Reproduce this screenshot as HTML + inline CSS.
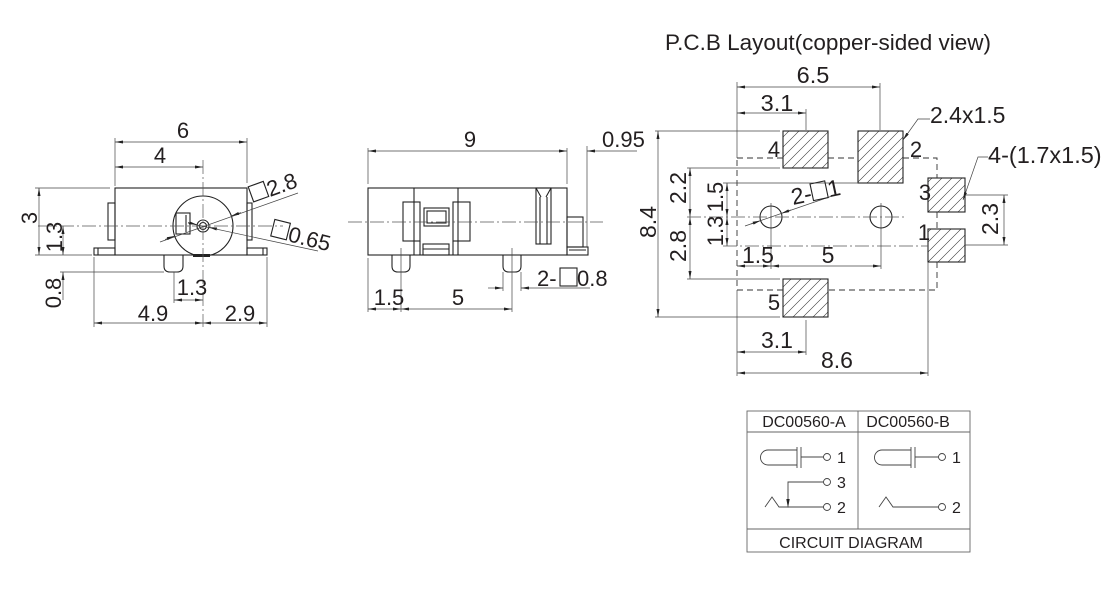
<!DOCTYPE html>
<html><head><meta charset="utf-8">
<style>
html,body{margin:0;padding:0;background:#fff;}
svg{display:block;}
text{font-family:"Liberation Sans",Arial,sans-serif;fill:#231f20;}
.o{stroke:#222;stroke-width:1.1;fill:none;}
.d{stroke:#444;stroke-width:0.7;fill:none;}
.c{stroke:#555;stroke-width:0.7;fill:none;stroke-dasharray:14 3 2 3;}
.ds{stroke:#333;stroke-width:0.9;fill:none;stroke-dasharray:6 4;}
.g{stroke:#666;stroke-width:0.9;fill:none;}
.ar{marker-start:url(#a);marker-end:url(#a);}
.ae{marker-end:url(#a);}
.as{marker-start:url(#a);}
</style></head><body>
<svg width="1120" height="590" viewBox="0 0 1120 590" xmlns="http://www.w3.org/2000/svg">
<defs>
<marker id="a" viewBox="0 0 8 3" refX="8" refY="1.5" markerWidth="8" markerHeight="3" markerUnits="userSpaceOnUse" orient="auto-start-reverse"><path d="M0,0 L8,1.5 L0,3z" fill="#222"/></marker>
<pattern id="h" width="10" height="10" patternUnits="userSpaceOnUse"><path d="M-2,2 L2,-2 M0,10 L10,0 M8,12 L12,8" stroke="#333" stroke-width="0.6"/></pattern>
</defs>

<!-- ================= LEFT VIEW ================= -->
<g class="o">
<rect x="115" y="188" width="132" height="67"/>
<rect x="108" y="203" width="7" height="37"/>
<rect x="247" y="203" width="5" height="37"/>
<rect x="94" y="248" width="21" height="7"/>
<line x1="98" y1="248" x2="98" y2="255"/>
<rect x="247" y="248" width="20" height="7"/>
<line x1="263" y1="248" x2="263" y2="255"/>
<path d="M164,255 V266 Q164,272 170,272 H177 Q183,272 183,266 V255"/>
<circle cx="203" cy="226" r="30"/>
<circle cx="203" cy="226" r="6"/>
<circle cx="203" cy="226" r="3.5"/>
<rect x="176" y="213" width="14" height="21"/>
<line x1="186" y1="215" x2="186" y2="232"/>
</g>
<rect x="193" y="254" width="17" height="3" fill="#222"/>
<line class="c" x1="38" y1="226" x2="283" y2="226"/>
<line class="c" x1="203" y1="160" x2="203" y2="327"/>

<g class="d">
<line x1="115" y1="138" x2="115" y2="186"/>
<line x1="247" y1="138" x2="247" y2="183"/>
<line class="ar" x1="115" y1="142" x2="247" y2="142"/>
<line class="ar" x1="115" y1="167" x2="203" y2="167"/>
<line x1="35" y1="188" x2="110" y2="188"/>
<line x1="35" y1="255" x2="92" y2="255"/>
<line class="ar" x1="39" y1="188" x2="39" y2="255"/>
<line class="ae" x1="63" y1="240" x2="63" y2="226"/>
<line class="ae" x1="63" y1="240" x2="63" y2="255"/>
<line class="ae" x1="63" y1="300" x2="63" y2="272"/>
<line x1="60" y1="272" x2="164" y2="272"/>
<line x1="174" y1="272" x2="174" y2="303"/>
<line class="ar" x1="174" y1="300" x2="203" y2="300"/>
<line x1="94" y1="257" x2="94" y2="327"/>
<line x1="267" y1="257" x2="267" y2="327"/>
<line class="ar" x1="94" y1="323" x2="203" y2="323"/>
<line class="ar" x1="203" y1="323" x2="267" y2="323"/>
<line x1="298" y1="193" x2="160" y2="242"/>
<line x1="318" y1="251" x2="188" y2="223"/>
<line class="ae" x1="241" y1="212.6" x2="231.3" y2="216"/>
<line class="ae" x1="165" y1="239.4" x2="174.7" y2="236"/>
<line class="ae" x1="218" y1="229.3" x2="208.9" y2="227.3"/>
<line class="ae" x1="188" y1="222.5" x2="197.1" y2="224.7"/>
</g>

<text x="183" y="138" text-anchor="middle" font-size="22">6</text>
<text x="160" y="163" text-anchor="middle" font-size="22">4</text>
<text transform="translate(37,218) rotate(-90)" text-anchor="middle" font-size="22">3</text>
<text transform="translate(62,237) rotate(-90)" text-anchor="middle" font-size="22">1.3</text>
<text transform="translate(61,293) rotate(-90)" text-anchor="middle" font-size="22">0.8</text>
<text x="192" y="295" text-anchor="middle" font-size="22">1.3</text>
<text x="153" y="321" text-anchor="middle" font-size="22">4.9</text>
<text x="240" y="321" text-anchor="middle" font-size="22">2.9</text>
<g transform="translate(270,197) rotate(-20)">
<rect x="-17" y="-17" width="16" height="16" class="o" stroke-width="0.9"/>
<text x="0" y="0" font-size="22">2.8</text>
</g>
<g transform="translate(287,241) rotate(14)">
<rect x="-17" y="-18" width="16" height="17" class="o" stroke-width="0.9"/>
<text x="0" y="0" font-size="22">0.65</text>
</g>

<!-- ================= MIDDLE VIEW ================= -->
<g class="o">
<rect x="368" y="188" width="199" height="67"/>
<line x1="414" y1="188" x2="414" y2="255"/>
<line x1="458" y1="188" x2="458" y2="255"/>
<rect x="403" y="202" width="17" height="39"/>
<rect x="453" y="202" width="17" height="39"/>
<rect x="424" y="208" width="25" height="18"/>
<rect x="427" y="211" width="19" height="12"/>
<line x1="420" y1="241" x2="420" y2="255"/>
<line x1="453" y1="241" x2="453" y2="255"/>
<rect x="423" y="244" width="26" height="11"/>
<line x1="423" y1="249" x2="449" y2="249"/>
<rect x="536" y="188" width="15" height="56"/>
<line x1="540" y1="197" x2="540" y2="244"/>
<line x1="547" y1="197" x2="547" y2="244"/>
<path d="M536,188 L541,197 M551,188 L546,197"/>
<rect x="567" y="217" width="16" height="30"/>
<rect x="567" y="247" width="21" height="8"/>
<line x1="569" y1="250" x2="586" y2="250"/>
<path d="M392,255 V266 Q392,272 398,272 H404 Q410,272 410,266 V255"/>
<path d="M503,255 V266 Q503,272 509,272 H515 Q521,272 521,266 V255"/>
</g>
<line class="c" x1="348" y1="222" x2="603" y2="222"/>
<g class="d">
<line x1="401" y1="248" x2="401" y2="312"/>
<line x1="512" y1="248" x2="512" y2="312"/>
<line x1="368" y1="148" x2="368" y2="184"/>
<line x1="567" y1="148" x2="567" y2="184"/>
<line x1="587" y1="146" x2="587" y2="247"/>
<line class="ar" x1="368" y1="151" x2="567" y2="151"/>
<line class="as" x1="587" y1="151" x2="637" y2="151"/>
<line x1="368" y1="258" x2="368" y2="312"/>
<line class="ar" x1="368" y1="309" x2="401" y2="309"/>
<line class="ar" x1="401" y1="309" x2="512" y2="309"/>
<line x1="503" y1="272" x2="503" y2="291"/>
<line x1="521" y1="272" x2="521" y2="291"/>
<line class="ae" x1="488" y1="288" x2="503" y2="288"/>
<line class="as" x1="521" y1="288" x2="590" y2="288"/>
</g>
<text x="470" y="147" text-anchor="middle" font-size="22">9</text>
<text x="602" y="147" font-size="22">0.95</text>
<text x="389" y="305" text-anchor="middle" font-size="22">1.5</text>
<text x="458" y="305" text-anchor="middle" font-size="22">5</text>
<text x="537" y="286" font-size="22">2-</text>
<rect x="560" y="268" width="17" height="18" class="o" stroke-width="0.9"/>
<text x="577" y="286" font-size="22">0.8</text>

<!-- ================= PCB LAYOUT ================= -->
<text x="665" y="50" font-size="22.5">P.C.B Layout(copper-sided view)</text>

<g class="o" stroke-width="1">
<rect x="783" y="131" width="45" height="37" fill="url(#h)"/>
<rect x="858" y="131" width="45" height="52" fill="url(#h)"/>
<rect x="928" y="178" width="37" height="34" fill="url(#h)"/>
<rect x="928" y="229" width="37" height="33" fill="url(#h)"/>
<rect x="783" y="279" width="45" height="38" fill="url(#h)"/>
<circle cx="771" cy="217" r="11"/>
<circle cx="881" cy="217" r="11"/>
</g>
<g class="ds">
<path d="M737,158 H783 M828,158 H858 M903,158 H937 V178 M937,212 V229 M937,262 V290 H828 M783,290 H737 V158"/>
</g>
<line class="c" x1="687" y1="217" x2="907" y2="217"/>
<line class="c" x1="723" y1="246" x2="928" y2="246"/>
<g class="d">
<line x1="737" y1="82" x2="737" y2="158"/>
<line x1="737" y1="290" x2="737" y2="376"/>
<line class="ar" x1="737" y1="87" x2="880" y2="87"/>
<line x1="880" y1="83" x2="880" y2="130"/>
<line class="ar" x1="737" y1="113" x2="806" y2="113"/>
<line x1="806" y1="109" x2="806" y2="130"/>
<line x1="771" y1="203" x2="771" y2="269"/>
<line x1="881" y1="203" x2="881" y2="269"/>
<line class="ar" x1="737" y1="266" x2="771" y2="266"/>
<line class="ar" x1="771" y1="266" x2="881" y2="266"/>
<line x1="806" y1="320" x2="806" y2="355"/>
<line class="ar" x1="737" y1="352" x2="806" y2="352"/>
<line x1="928" y1="262" x2="928" y2="376"/>
<line class="ar" x1="737" y1="373" x2="928" y2="373"/>
<line x1="655" y1="131" x2="780" y2="131"/>
<line x1="655" y1="317" x2="780" y2="317"/>
<line class="ar" x1="658" y1="131" x2="658" y2="317"/>
<line x1="687" y1="168" x2="780" y2="168"/>
<line x1="687" y1="279" x2="780" y2="279"/>
<line class="ar" x1="690" y1="168" x2="690" y2="217"/>
<line class="ar" x1="690" y1="217" x2="690" y2="279"/>
<line x1="723" y1="183" x2="858" y2="183"/>
<line class="ar" x1="727" y1="183" x2="727" y2="217"/>
<line class="ar" x1="727" y1="217" x2="727" y2="246"/>
<line x1="965" y1="195" x2="1008" y2="195"/>
<line x1="965" y1="245" x2="1008" y2="245"/>
<line class="ar" x1="1004" y1="195" x2="1004" y2="245"/>
<polyline class="as" points="903,140 918,119 930,119"/>
<polyline class="as" points="963,200 978,157 988,157"/>
<line x1="745" y1="226" x2="835" y2="195"/>
<line class="ae" x1="750.8" y1="224" x2="760.6" y2="220.6"/>
<line class="ae" x1="791" y1="210" x2="781.4" y2="213.4"/>
</g>

<text x="813" y="83" text-anchor="middle" font-size="23.5">6.5</text>
<text x="777" y="111" text-anchor="middle" font-size="23.5">3.1</text>
<text x="930" y="123" font-size="23">2.4x1.5</text>
<text x="988" y="163" font-size="23.5">4-(1.7x1.5)</text>
<text x="774" y="157" text-anchor="middle" font-size="22">4</text>
<text x="916" y="157" text-anchor="middle" font-size="22">2</text>
<text x="925" y="200" text-anchor="middle" font-size="22">3</text>
<text x="924" y="240" text-anchor="middle" font-size="22">1</text>
<text x="774" y="310" text-anchor="middle" font-size="22">5</text>
<text transform="translate(656,222) rotate(-90)" text-anchor="middle" font-size="23">8.4</text>
<text transform="translate(686,188) rotate(-90)" text-anchor="middle" font-size="23">2.2</text>
<text transform="translate(686,246) rotate(-90)" text-anchor="middle" font-size="23">2.8</text>
<text transform="translate(723,197) rotate(-90)" text-anchor="middle" font-size="22">1.5</text>
<text transform="translate(723,231) rotate(-90)" text-anchor="middle" font-size="22">1.3</text>
<text transform="translate(998,219) rotate(-90)" text-anchor="middle" font-size="23">2.3</text>
<text x="758" y="263" text-anchor="middle" font-size="23">1.5</text>
<text x="828" y="263" text-anchor="middle" font-size="23">5</text>
<text x="777" y="348" text-anchor="middle" font-size="23">3.1</text>
<text x="837" y="368" text-anchor="middle" font-size="23">8.6</text>
<g transform="translate(793,205) rotate(-12)">
<text x="0" y="0" font-size="23">2-</text>
<rect x="21" y="-17" width="15" height="17" class="o" stroke-width="0.9"/>
<text x="37" y="0" font-size="23">1</text>
</g>

<!-- ================= CIRCUIT DIAGRAM ================= -->
<g class="g">
<rect x="747" y="411" width="223" height="141"/>
<line x1="747" y1="432" x2="970" y2="432"/>
<line x1="747" y1="529" x2="970" y2="529"/>
<line x1="858" y1="411" x2="858" y2="529"/>
</g>
<text x="804" y="427" text-anchor="middle" font-size="16">DC00560-A</text>
<text x="908" y="427" text-anchor="middle" font-size="16">DC00560-B</text>
<text x="851" y="548" text-anchor="middle" font-size="16">CIRCUIT DIAGRAM</text>

<g stroke="#444" stroke-width="0.9" fill="none">
<path d="M797,450 H768 A7.5,7.5 0 0 0 768,465 H797"/>
<line x1="797" y1="447" x2="797" y2="468"/>
<line x1="801" y1="447" x2="801" y2="468"/>
<line x1="801" y1="457" x2="823.5" y2="457"/>
<circle cx="827" cy="457" r="3.5"/>
<circle cx="827" cy="482" r="3.5"/>
<polyline points="823.5,482 788,482 788,501"/>
<circle cx="827" cy="507" r="3.5"/>
<polyline points="765,507 772,497 779,507 823.5,507"/>

<path d="M911,450 H882 A7.5,7.5 0 0 0 882,465 H911"/>
<line x1="911" y1="447" x2="911" y2="468"/>
<line x1="915" y1="447" x2="915" y2="468"/>
<line x1="915" y1="457" x2="938.5" y2="457"/>
<circle cx="942" cy="457" r="3.5"/>
<circle cx="942" cy="507" r="3.5"/>
<polyline points="879,507 886,497 893,507 938.5,507"/>
</g>
<path d="M786.3,499 L789.7,499 L788,508 z" fill="#222"/>
<text x="837" y="463" font-size="16">1</text>
<text x="837" y="488" font-size="16">3</text>
<text x="837" y="513" font-size="16">2</text>
<text x="952" y="463" font-size="16">1</text>
<text x="952" y="513" font-size="16">2</text>
</svg>
</body></html>
